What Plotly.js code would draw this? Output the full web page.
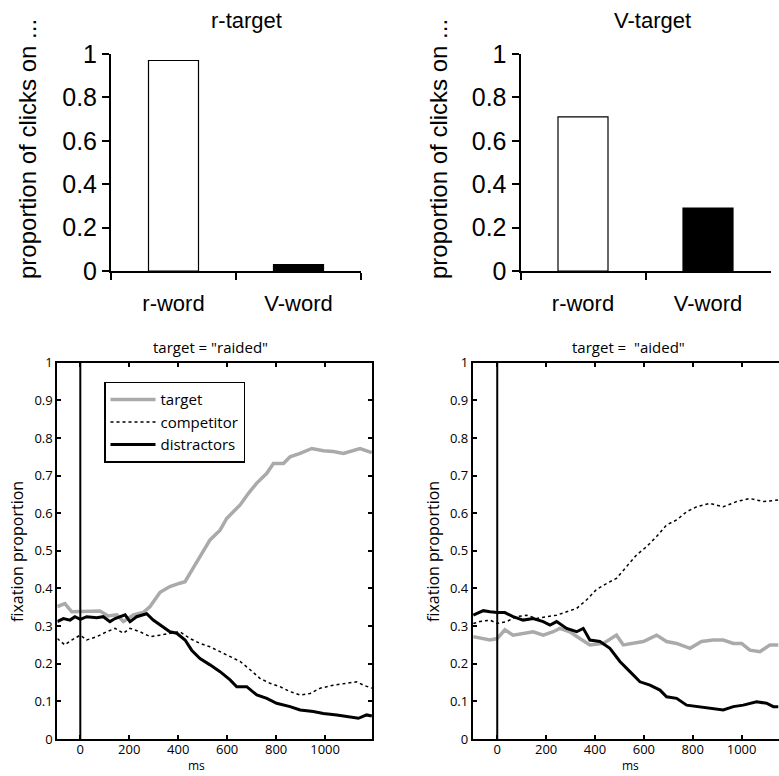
<!DOCTYPE html>
<html>
<head>
<meta charset="utf-8">
<script src="https://cdn.plot.ly/plotly-3.0.1.min.js"></script>
<style>html,body{margin:0;padding:0;background:#fff;overflow:hidden;}#chart{width:779px;height:776px;}</style>
</head>
<body>
<div id="chart"></div>
<script>
// ---------- data ----------
const barCategories = ['r-word', 'V-word'];
const rTargetClicks = [0.97, 0.03];
const vTargetClicks = [0.71, 0.29];
const barTitles = ['r-target', 'V-target'];
const barYTitle = 'proportion of clicks on ...';

const lineTitles = ['target = "raided"', 'target =\u00a0 "aided"'];
const lineYTitle = 'fixation proportion';
const lineXTitle = 'ms';
const msTicks = [0, 200, 400, 600, 800, 1000];
const seriesNames = ['target', 'competitor', 'distractors'];
const onsetMs = 0;

// left panel: target = "raided"
const raidedTargetMs = [-94,-63,-35,0,40,80,114,149,176,217,257,285,326,366,407,428,448,489,530,571,598,625,653,687,721,762,789,830,857,898,946,993,1034,1075,1116,1143,1191];
const raidedTargetVal = [0.352,0.36,0.338,0.338,0.338,0.34,0.327,0.33,0.312,0.33,0.336,0.352,0.39,0.405,0.414,0.418,0.44,0.485,0.529,0.555,0.586,0.604,0.622,0.653,0.68,0.706,0.732,0.732,0.75,0.759,0.772,0.766,0.764,0.759,0.768,0.772,0.761];
const raidedCompMs = [-94,-63,-35,0,26,67,108,142,176,203,244,285,326,366,407,448,489,530,571,612,653,694,734,775,816,857,898,939,980,1034,1089,1129,1157,1191];
const raidedCompVal = [0.267,0.25,0.263,0.276,0.263,0.272,0.285,0.294,0.281,0.294,0.285,0.272,0.276,0.281,0.285,0.267,0.254,0.245,0.232,0.219,0.206,0.184,0.161,0.148,0.139,0.126,0.117,0.121,0.135,0.143,0.148,0.152,0.143,0.135];
const raidedDistMs = [-94,-69,-42,-22,0,26,67,94,121,142,183,203,230,271,298,326,366,394,428,455,489,530,571,612,639,680,721,762,802,857,898,952,993,1048,1102,1136,1170,1191];
const raidedDistVal = [0.312,0.32,0.316,0.325,0.318,0.325,0.322,0.325,0.312,0.32,0.33,0.312,0.325,0.333,0.316,0.303,0.285,0.281,0.263,0.236,0.214,0.197,0.179,0.157,0.139,0.139,0.117,0.108,0.095,0.086,0.077,0.073,0.068,0.064,0.059,0.055,0.064,0.061];

// right panel: target = "aided"
const aidedTargetMs = [-98,-64,-30,0,31,65,106,147,188,229,256,297,338,379,434,488,516,557,598,652,693,734,789,836,884,925,966,1000,1034,1075,1116,1150];
const aidedTargetVal = [0.272,0.267,0.263,0.267,0.29,0.276,0.281,0.285,0.276,0.285,0.294,0.285,0.267,0.25,0.254,0.276,0.25,0.254,0.259,0.276,0.259,0.254,0.241,0.259,0.263,0.263,0.254,0.254,0.236,0.232,0.25,0.25];
const aidedCompMs = [-98,-71,-30,0,38,79,120,161,202,243,284,325,366,407,447,488,529,570,611,652,693,734,775,816,870,925,980,1034,1089,1150];
const aidedCompVal = [0.307,0.312,0.316,0.307,0.312,0.325,0.329,0.32,0.325,0.329,0.338,0.347,0.37,0.398,0.413,0.427,0.458,0.489,0.511,0.538,0.569,0.582,0.604,0.617,0.626,0.617,0.631,0.639,0.631,0.635];
const aidedDistMs = [-98,-78,-57,-30,0,31,65,106,147,188,216,243,284,325,352,379,420,461,502,543,584,625,666,693,734,775,816,870,925,966,1007,1061,1102,1130,1150];
const aidedDistVal = [0.329,0.334,0.341,0.338,0.336,0.336,0.325,0.316,0.32,0.312,0.303,0.312,0.294,0.285,0.294,0.263,0.259,0.241,0.206,0.179,0.152,0.143,0.13,0.112,0.108,0.09,0.086,0.081,0.077,0.086,0.09,0.099,0.095,0.086,0.086];

// ---------- styles ----------
const W = 779, H = 776;
const topFont = '"Liberation Sans", Arial, sans-serif';
const botFont = '"Open Sans", sans-serif';
const greyTarget = '#aaaaaa';
const styles = {
  target: {color: greyTarget, width: 3.5, dash: 'solid'},
  competitor: {color: '#000', width: 1.5, dash: 'dot'},
  distractors: {color: '#000', width: 3, dash: 'solid'}
};
const px = v => v / W;
const py = v => 1 - v / H;

const traces = [];
function bars(vals, xa, ya) {
  traces.push({
    type: 'bar', x: barCategories, y: vals, xaxis: xa, yaxis: ya, width: 0.4,
    marker: {color: ['#ffffff', '#000000'], line: {color: '#000', width: 1.2}},
    showlegend: false, hoverinfo: 'skip'
  });
}
bars(rTargetClicks, 'x', 'y');
bars(vTargetClicks, 'x2', 'y2');

function panel(sets, xa, ya, legend) {
  sets.forEach((s, i) => {
    const st = styles[seriesNames[i]];
    traces.push({
      type: 'scatter', mode: 'lines', name: seriesNames[i], x: s[0], y: s[1],
      xaxis: xa, yaxis: ya, showlegend: legend,
      line: {color: st.color, width: st.width, dash: st.dash, shape: 'linear'}
    });
  });
  traces.push({
    type: 'scatter', mode: 'lines', x: [onsetMs, onsetMs], y: [0, 1], xaxis: xa, yaxis: ya,
    showlegend: false, line: {color: '#000', width: 2}, hoverinfo: 'skip'
  });
}
panel([[raidedTargetMs, raidedTargetVal], [raidedCompMs, raidedCompVal], [raidedDistMs, raidedDistVal]], 'x3', 'y3', true);
panel([[aidedTargetMs, aidedTargetVal], [aidedCompMs, aidedCompVal], [aidedDistMs, aidedDistVal]], 'x4', 'y4', false);

function barX(d, anchor) {
  return {domain: d, anchor: anchor, type: 'category', range: [-0.5, 1.5], tickson: 'boundaries',
    ticks: 'outside', ticklen: 7, tickwidth: 2, tickcolor: '#000', showline: true, linewidth: 2, linecolor: '#000',
    showgrid: false, zeroline: false, ticklabelstandoff: 12,
    tickfont: {family: topFont, size: 22, color: '#000'}, fixedrange: true};
}
function barY(d, anchor) {
  return {domain: d, anchor: anchor, range: [0, 1], dtick: 0.2, ticks: 'outside', ticklen: 7, tickwidth: 2,
    tickcolor: '#000', showline: true, linewidth: 2, linecolor: '#000', showgrid: false, zeroline: false,
    tickfont: {family: topFont, size: 25, color: '#000'}};
}
function lineX(d, anchor, range) {
  return {domain: d, anchor: anchor, range: range, tickvals: msTicks,
    ticks: 'inside', ticklen: 4, tickwidth: 2, tickcolor: '#000', showline: true, linewidth: 2, linecolor: '#000',
    mirror: 'ticks', showgrid: false, zeroline: false, ticklabelstandoff: -3,
    tickfont: {family: botFont, size: 13, color: '#000'}};
}
function lineY(d, anchor, mirror) {
  return {domain: d, anchor: anchor, range: [0, 1], dtick: 0.1, ticks: 'inside', ticklen: 4, tickwidth: 2,
    tickcolor: '#000', showline: true, linewidth: 2, linecolor: '#000', mirror: mirror, showgrid: false, zeroline: false,
    tickfont: {family: botFont, size: 13, color: '#000'}};
}
function label(text, x, y, font, size, angle) {
  return {text: text, x: px(x), y: py(y), xref: 'paper', yref: 'paper', xanchor: 'center', yanchor: 'middle',
    showarrow: false, textangle: angle || 0, font: {family: font, size: size, color: '#000'}};
}

const topYD = [py(271), py(54)];
const botYD = [py(739), py(362.7)];
const layout = {
  width: W, height: H, margin: {l: 0, r: 0, t: 0, b: 0}, paper_bgcolor: '#fff', plot_bgcolor: 'rgba(0,0,0,0)',
  bargap: 0, showlegend: true,
  xaxis: barX([px(111), px(361)], 'y'),
  yaxis: barY(topYD, 'x'),
  xaxis2: barX([px(520.5), px(770.5)], 'y2'),
  yaxis2: barY(topYD, 'x2'),
  xaxis3: lineX([px(57.3), px(372.3)], 'y3', [-94, 1193]),
  yaxis3: lineY(botYD, 'x3', 'ticks'),
  xaxis4: lineX([px(472.8), 1], 'y4', [-100, 1153]),
  yaxis4: lineY(botYD, 'x4', false),
  legend: {x: px(104), y: py(381.7), xanchor: 'left', yanchor: 'top', bgcolor: '#fff', bordercolor: '#000',
    borderwidth: 1.5, itemwidth: 45, font: {family: botFont, size: 15, color: '#000'}, tracegroupgap: 0},
  annotations: [
    label(barTitles[0], 246, 20, topFont, 22),
    label(barTitles[1], 652, 20, topFont, 22),
    label(barYTitle, 27, 149, topFont, 24, -90),
    label(barYTitle, 438, 149, topFont, 24, -90),
    label(lineTitles[0], 210, 347, botFont, 15),
    label(lineTitles[1], 628, 347, botFont, 15),
    label(lineYTitle, 17, 552, botFont, 16, -90),
    label(lineYTitle, 433, 552, botFont, 16, -90),
    label(lineXTitle, 196, 765, botFont, 12),
    label(lineXTitle, 630, 765, botFont, 12)
  ]
};
Plotly.newPlot('chart', traces, layout, {staticPlot: true, displayModeBar: false});
</script>
</body>
</html>
